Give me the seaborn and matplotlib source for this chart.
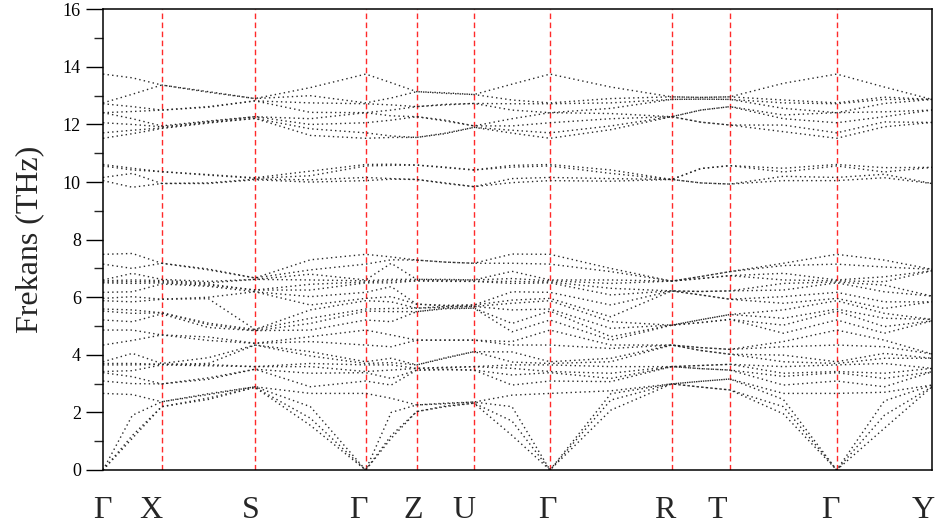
import numpy as np
import pandas as pd
import matplotlib
matplotlib.use("Agg")
import matplotlib.pyplot as plt
import seaborn as sns
from matplotlib.ticker import MultipleLocator
from matplotlib.transforms import ScaledTranslation

# High-symmetry path and relative segment lengths
labels = ["Γ", "X", "S", "Γ", "Z", "U", "Γ", "R", "T", "Γ", "Y"]
seg_len = [0.587, 0.933, 1.107, 0.510, 0.573, 0.760, 1.217, 0.583, 1.067, 0.953]

# Phonon frequencies (THz) at each high-symmetry point and at each segment midpoint
G = [0, 0, 0, 2.66, 3.09, 3.38, 3.42, 3.65, 3.7, 3.76, 4.34, 4.86, 5.21, 5.52, 5.59, 5.88, 5.96, 6.17,
     6.5, 6.53, 6.57, 6.6, 7.15, 7.49,
     10.05, 10.16, 10.56, 10.61,
     11.52, 11.71, 12.06, 12.41, 12.41, 12.72, 12.75, 13.75]
GX = [1.1, 1.2, 1.9, 2.62, 3.0, 3.24, 3.45, 3.65, 3.7, 4.05, 4.5, 4.86, 5.15, 5.44, 5.56, 5.84, 6.02, 6.19,
      6.48, 6.54, 6.6, 6.83, 7.0, 7.52,
      9.82, 10.3, 10.42, 10.48,
      11.68, 11.8, 12.0, 12.2, 12.45, 12.62, 13.05, 13.62]
X = [2.2, 2.2, 2.37, 2.37, 2.99, 2.99, 3.65, 3.67, 3.67, 3.7, 4.69, 4.69, 5.42, 5.46, 5.46, 5.93, 5.93, 6.46,
     6.5, 6.54, 6.58, 6.62, 7.18, 7.18,
     9.95, 9.95, 10.36, 10.36,
     11.86, 11.88, 11.92, 11.95, 12.5, 12.5, 13.37, 13.37]
XS = [2.45, 2.5, 2.62, 2.65, 3.15, 3.2, 3.62, 3.66, 3.7, 3.9, 4.5, 4.62, 4.95, 5.05, 5.1, 5.95, 6.0, 6.38,
      6.42, 6.46, 6.5, 6.55, 6.95, 6.98,
      9.95, 9.97, 10.24, 10.26,
      12.05, 12.07, 12.1, 12.12, 12.6, 12.62, 13.12, 13.14]
S = [2.87, 2.87, 2.89, 2.89, 3.5, 3.5, 3.59, 3.59, 4.34, 4.34, 4.4, 4.4, 4.84, 4.84, 4.88, 4.88, 6.19, 6.19,
     6.25, 6.25, 6.62, 6.62, 6.67, 6.67,
     10.08, 10.1, 10.13, 10.15,
     12.21, 12.21, 12.27, 12.27, 12.82, 12.82, 12.9, 12.9]
SG = [1.55, 1.8, 2.2, 2.66, 2.89, 3.36, 3.59, 3.7, 3.96, 4.11, 4.46, 4.63, 4.86, 5.09, 5.27, 5.56, 5.73, 6.02,
      6.25, 6.45, 6.6, 6.8, 6.95, 7.3,
      10.0, 10.08, 10.22, 10.38,
      11.62, 11.85, 12.0, 12.2, 12.42, 12.75, 13.0, 13.28]
GZ = [1.1, 1.2, 2.0, 2.49, 2.95, 3.18, 3.47, 3.65, 3.73, 3.88, 4.28, 4.69, 5.15, 5.5, 5.61, 5.84, 6.02, 6.37,
      6.5, 6.57, 6.62, 7.18, 7.3, 7.4,
      10.1, 10.12, 10.58, 10.62,
      11.55, 11.6, 12.15, 12.3, 12.5, 12.68, 12.92, 13.45]
Z = [2.03, 2.03, 2.26, 2.26, 3.47, 3.47, 3.53, 3.53, 3.65, 3.65, 4.51, 4.51, 5.5, 5.5, 5.62, 5.62, 5.76, 5.76,
     6.57, 6.57, 6.62, 6.62, 7.29, 7.29,
     10.09, 10.09, 10.59, 10.59,
     11.55, 11.55, 12.27, 12.27, 12.62, 12.62, 13.14, 13.14]
ZU = [2.2, 2.22, 2.3, 2.32, 3.48, 3.5, 3.55, 3.57, 3.88, 3.9, 4.51, 4.51, 5.6, 5.62, 5.65, 5.68, 5.7, 5.72,
      6.55, 6.57, 6.6, 6.62, 7.22, 7.22,
      9.95, 9.97, 10.5, 10.52,
      11.68, 11.7, 12.12, 12.15, 12.68, 12.7, 13.08, 13.1]
U = [2.32, 2.32, 2.36, 2.36, 3.47, 3.47, 3.59, 3.59, 4.11, 4.11, 4.51, 4.51, 5.62, 5.62, 5.68, 5.68, 5.73, 5.73,
     6.55, 6.55, 6.6, 6.6, 7.18, 7.18,
     9.84, 9.84, 10.42, 10.42,
     11.9, 11.9, 11.95, 11.95, 12.73, 12.73, 13.04, 13.04]
UG = [1.2, 1.7, 2.2, 2.6, 2.95, 3.3, 3.53, 3.65, 3.75, 4.1, 4.34, 4.46, 4.8, 5.09, 5.56, 5.79, 5.9, 6.19,
      6.48, 6.55, 6.65, 6.9, 7.18, 7.5,
      9.98, 10.12, 10.52, 10.58,
      11.7, 11.8, 11.95, 12.2, 12.5, 12.72, 12.85, 13.4]
GR = [2.08, 2.43, 2.65, 2.75, 3.07, 3.18, 3.36, 3.59, 3.76, 3.88, 4.22, 4.34, 4.51, 4.63, 4.92, 5.15, 5.32, 5.73,
      6.08, 6.31, 6.48, 6.6, 6.89, 7.0,
      10.03, 10.12, 10.3, 10.42,
      11.82, 11.95, 12.2, 12.38, 12.56, 12.75, 12.9, 13.3]
R = [2.99, 2.99, 2.99, 2.99, 3.59, 3.59, 3.59, 3.59, 4.34, 4.34, 4.34, 4.34, 5.03, 5.03, 5.03, 5.03, 6.22, 6.22,
     6.22, 6.22, 6.56, 6.56, 6.56, 6.56,
     10.09, 10.09, 10.09, 10.09,
     12.27, 12.27, 12.27, 12.27, 12.87, 12.87, 12.96, 12.96]
RT = [2.88, 2.88, 3.08, 3.08, 3.52, 3.52, 3.63, 3.63, 4.15, 4.15, 4.25, 4.25, 5.12, 5.12, 5.22, 5.22, 6.08, 6.08,
      6.2, 6.2, 6.65, 6.65, 6.72, 6.72,
      9.97, 9.97, 10.47, 10.47,
      12.08, 12.08, 12.5, 12.5, 12.88, 12.88, 12.94, 12.94]
T = [2.78, 2.78, 3.16, 3.16, 3.47, 3.47, 3.67, 3.67, 4.02, 4.02, 4.19, 4.19, 5.23, 5.23, 5.4, 5.4, 5.93, 5.93,
     6.22, 6.22, 6.75, 6.75, 6.89, 6.89,
     9.93, 9.93, 10.57, 10.57,
     11.98, 11.98, 12.62, 12.62, 12.87, 12.87, 12.96, 12.96]
TG = [1.95, 2.2, 2.45, 2.66, 2.95, 3.25, 3.36, 3.59, 3.76, 3.99, 4.28, 4.46, 4.75, 5.03, 5.27, 5.56, 5.79, 6.02,
      6.25, 6.48, 6.6, 6.83, 7.1, 7.18,
      10.05, 10.2, 10.35, 10.48,
      11.75, 11.98, 12.2, 12.33, 12.56, 12.75, 12.85, 13.43]
GY = [1.45, 1.9, 2.4, 2.7, 2.89, 3.18, 3.36, 3.7, 3.88, 4.05, 4.28, 4.51, 4.75, 4.98, 5.27, 5.44, 5.61, 5.84,
      6.19, 6.42, 6.54, 6.71, 7.05, 7.29,
      10.15, 10.27, 10.35, 10.5,
      11.92, 12.09, 12.27, 12.44, 12.73, 12.87, 12.95, 13.3]
Y = [2.89, 2.89, 2.95, 2.95, 3.41, 3.41, 3.53, 3.53, 3.88, 3.88, 4.03, 4.03, 5.18, 5.18, 5.23, 5.23, 5.84, 5.84,
     6.04, 6.04, 6.92, 6.92, 6.97, 6.97,
     9.95, 9.95, 10.51, 10.51,
     12.07, 12.07, 12.5, 12.5, 12.87, 12.87, 12.87, 12.87]

points = [G, X, S, G, Z, U, G, R, T, G, Y]
midpoints = [GX, XS, SG, GZ, ZU, UG, GR, RT, TG, GY]

# Path coordinate of each high-symmetry point and each segment midpoint
k_hs = np.concatenate([[0.0], np.cumsum(seg_len)])
k_nodes, f_nodes = [], []
for i in range(len(midpoints)):
    k_nodes += [k_hs[i], 0.5 * (k_hs[i] + k_hs[i + 1])]
    f_nodes += [points[i], midpoints[i]]
k_nodes.append(k_hs[-1])
f_nodes.append(points[-1])

rows = []
for k, freqs in zip(k_nodes, f_nodes):
    for band, f in enumerate(sorted(freqs)):
        rows.append({"k": k, "freq": f, "band": band})
df = pd.DataFrame(rows)

sns.set_style("ticks")
plt.rcParams["font.family"] = ["Liberation Serif", "DejaVu Serif"]

fig = plt.figure(figsize=(9.42, 5.28), dpi=100)
ax = fig.add_axes([103 / 942, 1 - 470 / 528, (932 - 103) / 942, (470 - 9.3) / 528])

sns.lineplot(data=df, x="k", y="freq", units="band", estimator=None, sort=False,
             color="#262626", linewidth=1.0, linestyle=(0, (1, 2.3)), legend=False, ax=ax)

for k in k_hs[1:-1]:
    ax.axvline(k, color="#ff2a2a", linewidth=1.0, linestyle=(0, (4, 2.5)), zorder=0)

ax.set_xlim(k_hs[0], k_hs[-1])
ax.set_ylim(0, 16)
ax.yaxis.set_major_locator(MultipleLocator(2))
ax.yaxis.set_minor_locator(MultipleLocator(1))
ax.tick_params(axis="y", which="major", direction="out", length=12, width=1.0,
               labelsize=13, pad=4, colors="black")
ax.tick_params(axis="y", which="minor", direction="out", length=6.5, width=1.0)
ax.set_xticks(k_hs)
ax.set_xticklabels(labels)
ax.tick_params(axis="x", which="both", length=0, labelsize=23, pad=19)

label_shift = [-1, -11, -4, -7, -4, -10, -3, -7, -13, -6, -9]
for lab, dx in zip(ax.get_xticklabels(), label_shift):
    lab.set_transform(lab.get_transform() + ScaledTranslation(dx / fig.dpi, 0, fig.dpi_scale_trans))

ax.set_xlabel("")
ax.set_ylabel("Frekans (THz)", fontsize=23, labelpad=13)

for side in ["left", "right", "top", "bottom"]:
    ax.spines[side].set_color("black")
    ax.spines[side].set_linewidth(1.1)

fig.savefig("out.png", dpi=100)
